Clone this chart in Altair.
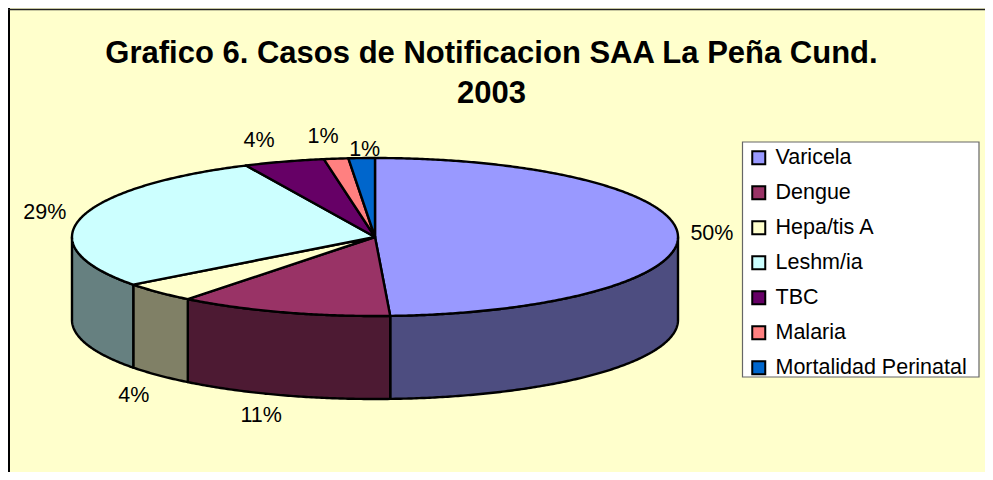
import math
import altair as alt

series = ["Varicela", "Dengue", "Hepa/tis A", "Leshm/ia", "TBC", "Malaria", "Mortalidad Perinatal"]
shares = [49.2, 11.4, 4.1, 28.3, 4.3, 1.3, 1.4]
labels = ["50%", "11%", "4%", "29%", "4%", "1%", "1%"]
top_colors = ["#9999FF", "#993366", "#FFFFCC", "#CCFFFF", "#660066", "#FF8080", "#0066CC"]
side_colors = ["#4D4D80", "#4D1A33", "#808066", "#668080", "#330033", "#804040", "#003366"]
title_lines = ["Grafico 6. Casos de Notificacion SAA La Peña Cund.", "2003"]

OX, OY = 8, 8
CX, CY, RX, RY, DEPTH = 375 - OX, 237 - OY, 303, 79, 83
LABEL_NUDGE = [(34, -1), (-22, 104), (-25, 104), (-36, -5), (-25, -21), (-13, -22), (3, -8)]
FULL_W, FULL_H = 977, 464


def pt(t, dy=0.0):
    a = math.radians(t)
    return [CX + RX * math.sin(a), CY - RY * math.cos(a) + dy]


def arc(t0, t1, dy=0.0):
    n = max(2, int(abs(t1 - t0) * 2))
    return [pt(t0 + (t1 - t0) * i / n, dy) for i in range(n + 1)]


def feature(name, ring, fill):
    return {
        "type": "Feature",
        "properties": {"serie": name, "fill": fill},
        "geometry": {"type": "Polygon", "coordinates": [ring + [ring[0]]]},
    }


tops, sides, texts = [], [], []
start = 0.0
for name, share, label, top, side, nudge in zip(series, shares, labels, top_colors, side_colors, LABEL_NUDGE):
    end = start + share * 3.6
    tops.append(feature(name, [[CX, CY]] + arc(start, end), top))
    a, b = max(start, 90.0), min(end, 270.0)
    if b > a:
        sides.append(feature(name, arc(a, b) + arc(b, a, DEPTH), side))
    mx, my = pt((start + end) / 2)
    texts.append({"label": label, "lx": mx + nudge[0], "ly": my + nudge[1]})
    start = end

proj = alt.Projection(type="identity", scale=1, translate=[0, 0])
dummy = alt.Data(values=[{"a": 1}])

left_border = (
    alt.Chart(dummy)
    .mark_rule(color="black", strokeWidth=2)
    .encode(x=alt.value(1), y=alt.value(0), y2=alt.value(FULL_H))
)
top_border = (
    alt.Chart(dummy)
    .mark_rule(color="#222222", strokeWidth=1.5)
    .encode(y=alt.value(1.5), x=alt.value(0), x2=alt.value(FULL_W))
)
legend_box = (
    alt.Chart(dummy)
    .mark_rect(fill="white", stroke="#666666", strokeWidth=1.2)
    .encode(
        x=alt.value(742.5 - OX),
        x2=alt.value(979 - OX),
        y=alt.value(142 - OY),
        y2=alt.value(377 - OY),
    )
)
side_layer = (
    alt.Chart(alt.Data(values=sides))
    .mark_geoshape(stroke="black", strokeWidth=2.4, strokeJoin="round")
    .encode(fill=alt.Fill("properties.fill:N", scale=None))
    .project(**proj.to_dict())
)
top_layer = (
    alt.Chart(alt.Data(values=tops))
    .mark_geoshape(stroke="black", strokeWidth=2.4, strokeJoin="round")
    .encode(
        fill=alt.Fill(
            "properties.serie:N",
            scale=alt.Scale(domain=series, range=top_colors),
            legend=alt.Legend(
                title=None,
                orient="none",
                legendX=749 - 1 - OX,
                legendY=147 - OY,
                padding=0,
                symbolType="square",
                symbolSize=169,
                symbolStrokeColor="black",
                symbolStrokeWidth=2,
                labelFont="Liberation Sans",
                labelFontSize=21.5,
                labelColor="black",
                labelOffset=6,
                rowPadding=12,
                labelLimit=300,
            ),
        )
    )
    .project(**proj.to_dict())
)
text_layer = (
    alt.Chart(alt.Data(values=texts))
    .mark_text(font="Liberation Sans", fontSize=21.5, color="black", align="center", baseline="middle")
    .encode(
        x=alt.X("lx:Q", scale=None, axis=None),
        y=alt.Y("ly:Q", scale=None, axis=None),
        text="label:N",
    )
)

chart = (
    alt.layer(legend_box, left_border, top_border, side_layer, top_layer, text_layer)
    .properties(
        width=FULL_W,
        height=FULL_H,
        padding=0,
        autosize=alt.AutoSizeParams(type="none"),
        background="#FFFFCC",
        title=alt.TitleParams(
            title_lines,
            font="Liberation Sans",
            fontSize=31,
            fontWeight="bold",
            color="black",
            lineHeight=40,
            anchor="middle",
            frame="group",
            dx=-5,
            dy=103,
            offset=0,
        ),
    )
    .configure_view(stroke="transparent")
)

chart.save("out.html", embed_options={"renderer": "svg", "actions": False})
